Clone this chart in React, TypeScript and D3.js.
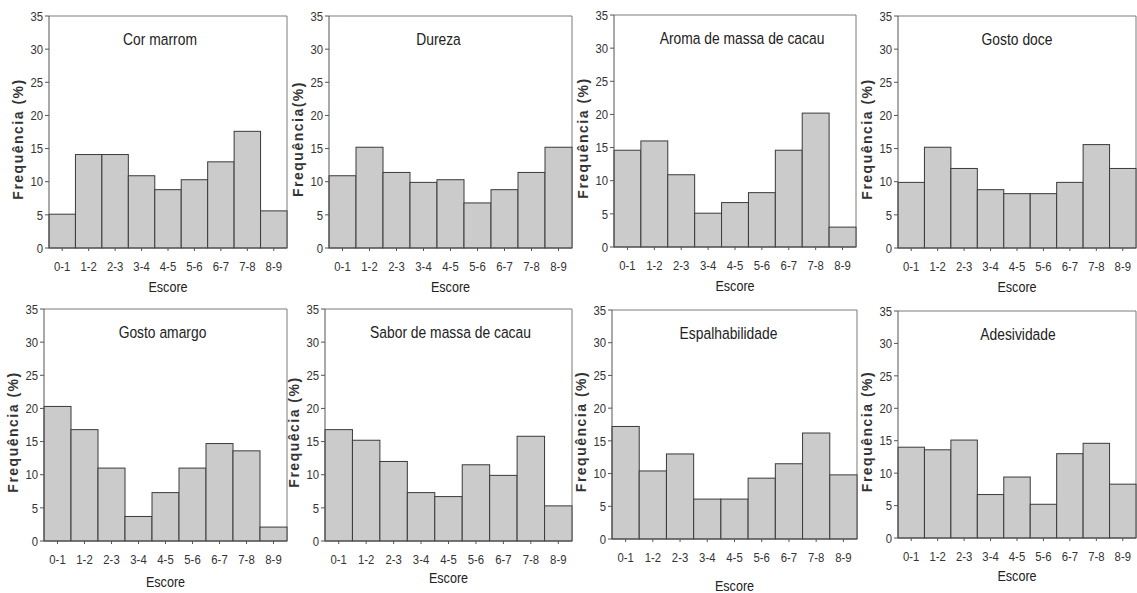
import React from "react";
import * as d3 from "d3";

const categories = ["0-1", "1-2", "2-3", "3-4", "4-5", "5-6", "6-7", "7-8", "8-9"];
const yTicks = [0, 5, 10, 15, 20, 25, 30, 35];

const titles = [
  "Cor marrom",
  "Dureza",
  "Aroma de massa de cacau",
  "Gosto doce",
  "Gosto amargo",
  "Sabor de massa de cacau",
  "Espalhabilidade",
  "Adesividade",
];

const yLabels = [
  "Frequência (%)",
  "Frequência(%)",
  "Frequência (%)",
  "Frequência (%)",
  "Frequência (%)",
  "Frequêcia (%)",
  "Frequência (%)",
  "Frequência (%)",
];

const corMarrom = [5.1, 14.1, 14.1, 10.9, 8.8, 10.3, 13.0, 17.6, 5.6];
const dureza = [10.9, 15.2, 11.4, 9.9, 10.3, 6.8, 8.8, 11.4, 15.2];
const aromaMassa = [14.6, 16.0, 10.9, 5.1, 6.7, 8.2, 14.6, 20.2, 3.0];
const gostoDoce = [9.9, 15.2, 12.0, 8.8, 8.2, 8.2, 9.9, 15.6, 12.0];
const gostoAmargo = [20.3, 16.8, 11.0, 3.7, 7.3, 11.0, 14.7, 13.6, 2.1];
const saborMassa = [16.8, 15.2, 12.0, 7.3, 6.7, 11.5, 9.9, 15.8, 5.3];
const espalhabilidade = [17.2, 10.4, 13.0, 6.1, 6.1, 9.3, 11.5, 16.2, 9.8];
const adesividade = [14.0, 13.6, 15.1, 6.7, 9.4, 5.2, 13.0, 14.6, 8.3];

const seriesList = [corMarrom, dureza, aromaMassa, gostoDoce, gostoAmargo, saborMassa, espalhabilidade, adesividade];

// layout: [left, top, right, bottom] of each plot area
const boxes = [
  [49, 16, 287, 248],
  [329, 16, 572, 248],
  [614, 15, 856, 247],
  [898, 16, 1136, 248],
  [44, 309, 287, 541],
  [325, 309, 572, 541],
  [612, 310, 857, 539],
  [898, 311, 1136, 538],
];
const titleDx = [-8, -12, 7, 0, -3, 2, -6, 1];
const xLabelDy = [44, 44, 44, 44, 46, 42, 52, 43];

const FONT = "'Liberation Sans', Arial, sans-serif";
const SQ = 0.84;

function NText({
  x,
  y,
  size,
  anchor,
  fill = "#333",
  dy,
  children,
}: {
  x: number;
  y: number;
  size: number;
  anchor: "start" | "middle" | "end";
  fill?: string;
  dy?: string;
  children: React.ReactNode;
}) {
  return (
    <g transform={`translate(${x},${y}) scale(${SQ},1)`}>
      <text x={0} y={0} dy={dy} textAnchor={anchor} fontFamily={FONT} fontSize={size} fill={fill}>
        {children}
      </text>
    </g>
  );
}

function Panel({ i }: { i: number }) {
  const [l, t, r, b] = boxes[i];
  const data = seriesList[i];
  const x = d3.scaleBand<string>().domain(categories).range([l, r]).padding(0);
  const y = d3.scaleLinear().domain([0, 35]).range([b, t]);
  const cx = (l + r) / 2;
  return (
    <g>
      <line x1={l} y1={t} x2={r} y2={t} stroke="#7a7a7a" strokeWidth={1} />
      <line x1={r} y1={t} x2={r} y2={b} stroke="#7a7a7a" strokeWidth={1} />
      {data.map((v, k) => (
        <rect
          key={k}
          x={x(categories[k])!}
          y={y(v)}
          width={x.bandwidth()}
          height={y(0) - y(v)}
          fill="#cbcbcb"
          stroke="#3a3a3a"
          strokeWidth={1}
        />
      ))}
      <line x1={l} y1={t} x2={l} y2={b} stroke="#555" strokeWidth={1} />
      <line x1={l} y1={b} x2={r} y2={b} stroke="#555" strokeWidth={1} />
      {yTicks.map((tv) => (
        <g key={tv}>
          <line x1={l - 4} x2={l} y1={y(tv)} y2={y(tv)} stroke="#555" />
          <NText x={l - 6} y={y(tv)} dy="0.35em" anchor="end" size={13.5}>
            {tv}
          </NText>
        </g>
      ))}
      {categories.map((c) => {
        const px = x(c)! + x.bandwidth() / 2;
        return (
          <g key={c}>
            <line x1={px} x2={px} y1={b} y2={b + 3} stroke="#555" />
            <NText x={px} y={b + 23} anchor="middle" size={13.5}>
              {c}
            </NText>
          </g>
        );
      })}
      <NText x={cx + titleDx[i]} y={t + 29} anchor="middle" size={16.5} fill="#222">
        {titles[i]}
      </NText>
      <NText x={cx} y={b + xLabelDy[i]} anchor="middle" size={15} fill="#222">
        Escore
      </NText>
      <text
        transform={`translate(${l - 26},${(t + b) / 2 + 7}) rotate(-90)`}
        textAnchor="middle"
        fontFamily={FONT}
        fontWeight="bold"
        fontSize={14}
        letterSpacing={1.5}
        fill="#333"
      >
        {yLabels[i]}
      </text>
    </g>
  );
}

export default function App() {
  return (
    <svg
      width={1137}
      height={593}
      style={{ position: "absolute", left: 0, top: 0, background: "#fff" }}
    >
      <rect width={1137} height={593} fill="#fff" />
      {seriesList.map((_, i) => (
        <Panel key={i} i={i} />
      ))}
    </svg>
  );
}
